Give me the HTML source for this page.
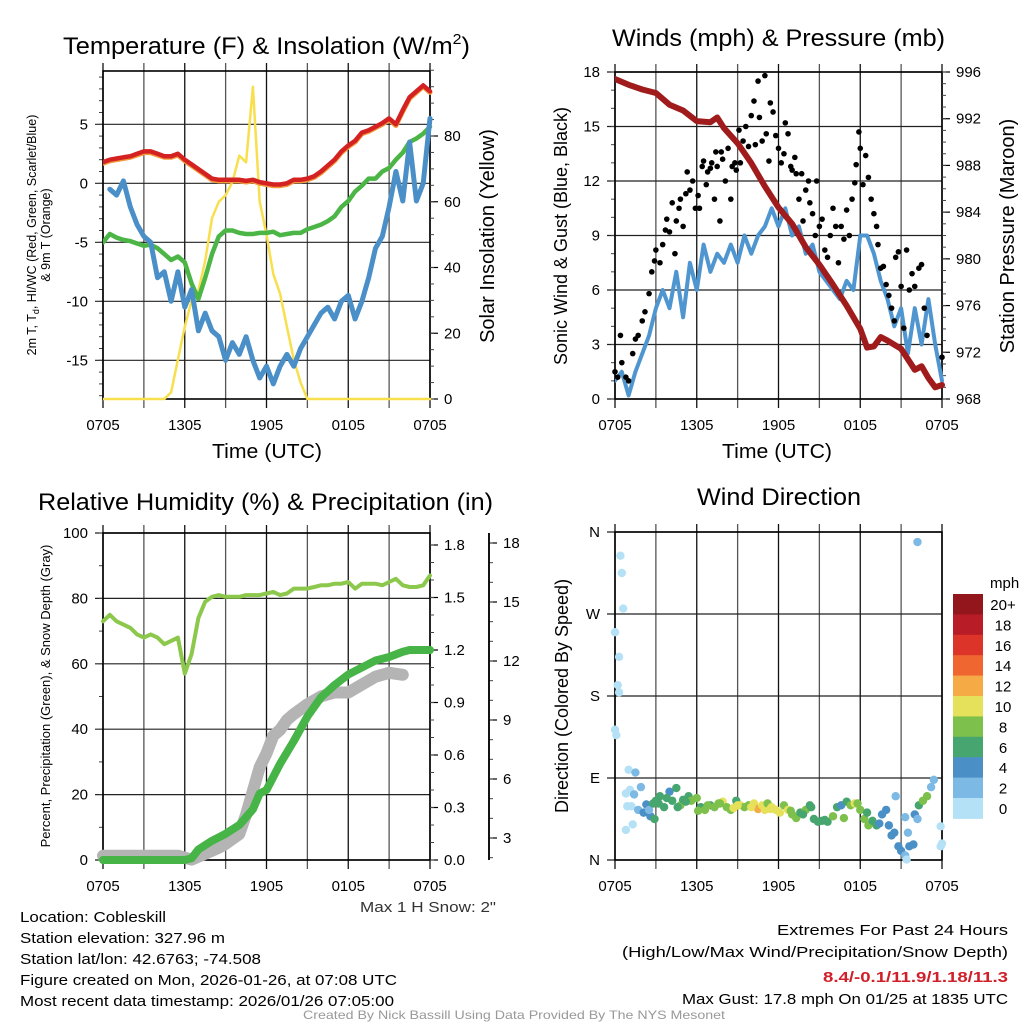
<!DOCTYPE html>
<html><head><meta charset="utf-8"><style>
html,body{margin:0;padding:0;background:#fff;}
svg{display:block;font-family:"Liberation Sans",sans-serif;}
</style></head><body>
<svg id="chart" width="1024" height="1024" viewBox="0 0 1024 1024" xmlns="http://www.w3.org/2000/svg">
<rect x="0" y="0" width="1024" height="1024" fill="#fff"/>
<g id="layer"></g>
<!-- titles -->
<text x="63" y="54" font-size="24" textLength="407" lengthAdjust="spacingAndGlyphs">Temperature (F) &amp; Insolation (W/m<tspan font-size="15" dy="-10">2</tspan><tspan dy="10">)</tspan></text>
<text x="612" y="46" font-size="24" textLength="333" lengthAdjust="spacingAndGlyphs">Winds (mph) &amp; Pressure (mb)</text>
<text x="38" y="510" font-size="24" textLength="455" lengthAdjust="spacingAndGlyphs">Relative Humidity (%) &amp; Precipitation (in)</text>
<text x="697" y="505" font-size="24" textLength="164" lengthAdjust="spacingAndGlyphs">Wind Direction</text>
<!-- axis titles -->
<text x="212" y="458" font-size="20" textLength="110" lengthAdjust="spacingAndGlyphs">Time (UTC)</text>
<text x="722" y="458" font-size="20" textLength="110" lengthAdjust="spacingAndGlyphs">Time (UTC)</text>
<g transform="translate(36,235) rotate(-90)">
<text x="0" y="0" font-size="12.5" text-anchor="middle">2m T, T<tspan font-size="9" dy="3">d</tspan><tspan dy="-3">, HI/WC (Red, Green, Scarlet/Blue)</tspan></text>
<text x="0" y="14" font-size="12.5" text-anchor="middle">&amp; 9m T (Orange)</text>
</g>
<text transform="translate(494,236) rotate(-90)" font-size="20" text-anchor="middle">Solar Insolation (Yellow)</text>
<text transform="translate(567,236) rotate(-90)" font-size="18" text-anchor="middle">Sonic Wind &amp; Gust (Blue, Black)</text>
<text transform="translate(1014,236) rotate(-90)" font-size="20" text-anchor="middle">Station Pressure (Maroon)</text>
<text transform="translate(50,696) rotate(-90)" font-size="13" text-anchor="middle">Percent, Precipitation (Green), &amp; Snow Depth (Gray)</text>
<text transform="translate(568,696) rotate(-90)" font-size="18" text-anchor="middle">Direction (Colored By Speed)</text>
<text x="360" y="912" font-size="15" fill="#333" textLength="136" lengthAdjust="spacingAndGlyphs">Max 1 H Snow: 2"</text>
<!-- footer -->
<g font-size="15">
<text x="20" y="922" textLength="146" lengthAdjust="spacingAndGlyphs">Location: Cobleskill</text>
<text x="20" y="943" textLength="205" lengthAdjust="spacingAndGlyphs">Station elevation: 327.96 m</text>
<text x="20" y="964" textLength="241" lengthAdjust="spacingAndGlyphs">Station lat/lon: 42.6763; -74.508</text>
<text x="20" y="985" textLength="377" lengthAdjust="spacingAndGlyphs">Figure created on Mon, 2026-01-26, at 07:08 UTC</text>
<text x="20" y="1006" textLength="374" lengthAdjust="spacingAndGlyphs">Most recent data timestamp: 2026/01/26 07:05:00</text>
</g>
<g font-size="15">
<text x="777" y="935" textLength="231" lengthAdjust="spacingAndGlyphs">Extremes For Past 24 Hours</text>
<text x="622" y="957" textLength="386" lengthAdjust="spacingAndGlyphs">(High/Low/Max Wind/Precipitation/Snow Depth)</text>
<text x="823" y="982" fill="#d0202a" font-weight="bold" textLength="185" lengthAdjust="spacingAndGlyphs">8.4/-0.1/11.9/1.18/11.3</text>
<text x="682" y="1004" textLength="326" lengthAdjust="spacingAndGlyphs">Max Gust: 17.8 mph On 01/25 at 1835 UTC</text>
</g>
<text x="303" y="1019" font-size="12" fill="#999" textLength="422" lengthAdjust="spacingAndGlyphs">Created By Nick Bassill Using Data Provided By The NYS Mesonet</text>
</svg>
<script>
// ---------- DATA ----------
const xTickHours=[0,6,12,18,24];
const xTickLabels=['0705','1305','1905','0105','0705'];
const halfHours=[0,0.5,1,1.5,2,2.5,3,3.5,4,4.5,5,5.5,6,6.5,7,7.5,8,8.5,9,9.5,10,10.5,11,11.5,12,12.5,13,13.5,14,14.5,15,15.5,16,16.5,17,17.5,18,18.5,19,19.5,20,20.5,21,21.5,22,22.5,23,23.5,24];
const tempRed=[1.8,2.0,2.1,2.2,2.3,2.5,2.7,2.7,2.5,2.3,2.3,2.5,2.0,1.6,1.2,0.8,0.4,0.3,0.3,0.3,0.3,0.2,0.3,0.1,0.0,-0.1,-0.1,0.0,0.3,0.3,0.4,0.6,1.0,1.5,2.0,2.7,3.2,3.6,4.3,4.5,4.8,5.1,5.5,5.0,6.2,7.3,7.8,8.3,7.8];
const tempOrange=[1.7,1.9,2.0,2.1,2.2,2.4,2.6,2.6,2.4,2.2,2.2,2.4,1.9,1.5,1.1,0.7,0.3,0.2,0.2,0.2,0.2,0.1,0.2,0.0,-0.1,-0.2,-0.2,-0.1,0.2,0.2,0.3,0.5,0.9,1.4,1.9,2.6,3.1,3.5,4.2,4.4,4.7,5.0,5.4,4.9,6.1,7.2,7.7,8.2,7.7];
const dewGreen=[-5,-4.3,-4.6,-4.8,-4.9,-5.1,-5.3,-5.2,-5.5,-6.0,-6.5,-6.2,-6.7,-8.5,-9.8,-8.0,-6.0,-4.5,-4.0,-4.0,-4.2,-4.3,-4.3,-4.2,-4.2,-4.1,-4.4,-4.3,-4.2,-4.2,-3.9,-3.7,-3.5,-3.2,-2.8,-2.0,-1.5,-0.7,-0.2,0.4,0.4,1.0,1.3,2.0,2.6,3.5,3.8,4.2,4.8];
const windChill=[null,-0.5,-1.0,0.2,-2,-3.5,-4.5,-5,-8,-7.5,-10,-7.5,-10.5,-9,-12.5,-11,-12.5,-13,-15,-13.5,-14.5,-13,-15,-16.5,-15.5,-17,-15.5,-14.5,-15.5,-14,-13,-12,-11,-10.5,-11.5,-10,-9.5,-11.5,-10,-8,-5.5,-4.5,-2,1,-1.5,3.5,-1.5,0,5.5];
const solar=[0,0,0,0,0,0,0,0,0,0,2,12,22,30,33,42,55,60,62,66,74,72,95,60,50,38,32,22,12,5,0,0,0,0,0,0,0,0,0,0,0,0,0,0,0,0,0,0,0];
const tempTicks=[-15,-10,-5,0,5];
const solarTicks=[0,20,40,60,80];

const pressHours=[0,1,2,3,4,5,6,7,7.5,8,9,10,11,12,13,14,15,16,17,18,18.5,19,19.5,20,21,22,22.5,23,23.5,24];
const pressure=[995.4,994.9,994.5,994.2,993.2,992.7,991.8,991.7,992.1,991.2,989.9,988.2,986.2,984.4,983.0,981.0,979.5,977.8,976.0,974.0,972.4,972.5,973.3,973.0,972.3,970.5,970.8,969.8,969.0,969.2];
const windSpeed=[1,1.5,0.2,1.5,2.5,3.5,5,6,5,7,4.5,7.5,6,8.5,7,8,7.5,8.5,7.5,9,8,9,9.5,10.5,9.5,10.5,9,9.5,8,8.5,7,6.5,6,5.5,6.5,6,9,9,8,6.5,5.5,4,5,2.5,5,3,5.5,3,1];
const gustHours=[0,0.2,0.4,0.5,0.8,1,1.3,1.5,1.7,2,2.2,2.5,2.7,2.9,3,3.3,3.5,3.7,3.8,4,4.2,4.4,4.5,4.7,4.8,5,5.2,5.3,5.5,5.7,5.9,6.1,6.2,6.4,6.5,6.7,6.8,7,7.1,7.3,7.4,7.5,7.7,7.8,7.9,8.1,8.3,8.5,8.6,8.8,8.9,9.1,9.2,9.4,9.6,9.8,10,10.2,10.3,10.5,10.6,10.8,11,11.1,11.3,11.4,11.6,11.8,12,12.2,12.4,12.5,12.7,12.9,13,13.2,13.3,13.5,13.7,13.8,14,14.2,14.3,14.5,14.7,14.8,15,15.2,15.4,15.6,15.8,16,16.2,16.4,16.6,16.8,17,17.2,17.4,17.6,17.7,17.9,18,18.2,18.4,18.6,18.8,19,19.2,19.3,19.5,19.7,19.9,20.1,20.3,20.5,20.6,20.8,21,21.2,21.4,21.6,21.8,22,22.3,22.5,22.7,22.9,24];
const gustSpeed=[1.5,1.2,3.5,2,1.2,1,2.5,3.3,3.5,4.3,4.8,5.8,7,7.6,8.2,7.5,8.5,9.3,9.9,9.2,10.8,8,9.8,10.5,11,9.5,11.3,12.5,11.5,12,10.5,11.2,10.5,12.8,13.1,11.8,12.5,12.7,13,11,13.6,12.8,9.8,13.6,13.2,12,13.8,11,12.8,13,12.6,14.8,13,14.2,15,13.9,15.6,16.4,14,17.5,15.5,14.2,17.8,14.6,13.1,16.3,15.8,14.5,13.8,13,13.5,15.2,14.6,12.8,12.6,13.3,12.4,11,12.4,9.8,11.5,12,10.8,10.2,9,12,9.5,9.9,8.2,7.8,9,10.5,9.5,7.5,9.5,8.8,10.4,9,11,11.9,12.9,14.7,13.8,11.8,13.4,12.2,11,10.2,9.5,8.5,7.2,7.3,6.3,5.7,5,4.3,7.8,8.1,6.2,3.9,8.2,6,6.9,6.2,7.2,7.4,5,3.5,2.3];
const windTicks=[0,3,6,9,12,15,18];
const pressTicks=[968,972,976,980,984,988,992,996];

const rhHumidity=[73,75,73,72,71,69,68,69,68,66,67,68,57,63,74,79,80.5,81,80.5,80.5,80.5,81,81,81,81.5,82,81,81.5,83,83,83,83.5,84,84,84.5,84.5,85,83,84.5,84.5,84.5,84,85,86,84,83.5,83.5,84,87];
const precipHours=[0,6,6.5,7,8,9,10,11,11.5,12,13,14,15,16,17,18,19,20,21,22,22.5,24];
const precipIn=[0,0,0.01,0.06,0.11,0.15,0.2,0.29,0.38,0.4,0.55,0.68,0.82,0.93,1.0,1.06,1.1,1.14,1.16,1.19,1.2,1.2];
const snowHours=[0,5.5,6.5,7.5,8.5,9,10,10.5,11,11.5,12,12.5,13,13.5,14,15,16,17,18,19,20,21,22];
const snowDepth=[2.1,2.1,1.9,2.2,2.5,2.7,3.2,4.2,5.4,6.6,7.3,8.2,8.5,9,9.3,9.8,10.2,10.4,10.4,10.8,11.2,11.4,11.3];
const pctTicks=[0,20,40,60,80,100];
const precipTicks=[0,0.3,0.6,0.9,1.2,1.5,1.8];
const snowTicks=[3,6,9,12,15,18];

const dirHours=[0.4,0.5,0.6,-0.1,0.3,0.2,0.3,0.0,0.1,1.0,1.5,0.8,1.1,1.4,1.9,2.3,0.9,1.2,1.7,2.1,2.6,1.3,0.8,2.5,2.8,3.0,3.3,3.6,4.0,4.2,4.5,4.8,5.0,5.4,5.6,6.0,6.3,6.6,7.0,7.3,7.6,7.9,8.2,8.5,8.9,9.2,9.5,9.8,10.2,10.5,10.8,11.0,11.2,11.5,11.8,12.1,12.4,12.7,13.0,13.3,13.6,14.0,14.3,14.6,14.9,15.2,15.6,16.0,16.3,16.6,17.0,17.3,17.6,18.0,18.3,18.6,18.9,19.2,19.6,19.9,20.1,20.3,20.5,20.8,21.0,21.3,21.6,21.4,20.6,21.3,22.0,22.3,22.6,22.9,23.2,23.4,23.9,24.0,23.9,22.2,21.5,21.9,22.2,3.2,3.8,5.2,6.8,7.7,8.7,9.0,10.0,11.4,12.9,13.8,14.4,15.4,16.8,17.8,18.5,19.4,2.9,4.6,6.1];
const dirDeg=[334,315,276,250,223,192,184,143,137,99,96,73,77,72,80,61,59,59,55,52,48,39,33,55,62,65,70,58,75,65,79,60,66,70,65,68,58,55,60,58,62,64,58,55,65,60,58,60,62,56,60,55,62,58,55,52,60,55,50,46,52,55,60,45,42,43,42,48,58,60,64,60,62,55,45,38,43,38,50,55,38,27,30,15,10,5,15,0.5,70,47,50,60,65,70,80,88,37,18,15,349,30,17,45,62,68,64,60,62,57,60,58,56,54,50,58,44,46,62,52,40,45,58,54,60];
const dirSpeed=[1,0,0,1,0,0,0,1,0,0,2,0,0,2,3,4,0,0,2,4,4,0,0,2,6,6,6,6,4,6,6,8,6,6,8,8,6,8,6,8,8,10,8,8,6,10,8,8,10,12,10,10,8,10,10,10,8,10,8,8,6,8,6,6,6,6,6,8,6,4,6,8,10,8,8,8,6,6,4,4,4,4,4,4,4,2,4,0,2,2,4,6,8,8,2,2,0,0,0,2,2,4,2,6,6,6,8,8,10,10,10,10,8,6,6,6,8,8,6,4,6,6,8];
const dirTicks=[0,90,180,270,360];
const dirTickLabels=['N','E','S','W','N'];
const speedBins=['0','2','4','6','8','10','12','14','16','18','20+'];
const binColors=['#b5e1f6','#7cb9e4','#4a8fc5','#47a56f','#7dc04b','#e6e15b','#f5aa46','#ef6631','#dc3429','#b81c26','#93161c'];

// ---------- DRAWING ----------
const NS='http://www.w3.org/2000/svg';
const layer=document.getElementById('layer');
function mk(tag,attrs,parent){const e=document.createElementNS(NS,tag);for(const k in attrs)e.setAttribute(k,attrs[k]);(parent||layer).appendChild(e);return e;}
function lin(d0,d1,r0,r1){return v=>r0+(v-d0)*(r1-r0)/(d1-d0);}

function panel(name,x0,x1,y0,y1,yScale,yTicks,yLabels,minorStep,ymin,ymax){
  const g=mk('g',{});
  
  
  const xs=lin(0,24,x0,x1);
  for(let h=0;h<=24;h+=3){
    const x=xs(h);
    const l=mk('line',{x1:x,x2:x,y1:y0-8,y2:y1+9,stroke:(h%6===0)?'#111':'#555','stroke-width':1.3},g);
    
    
  }
  xTickHours.forEach((h,i)=>{
    const t=mk('text',{x:xs(h),y:y1+31,'font-size':15,'text-anchor':'middle'},g);
    t.textContent=xTickLabels[i];
    
    
  });
  yTicks.forEach((v,i)=>{
    const y=yScale(v);
    const l=mk('line',{x1:x0-8,x2:x1,y1:y,y2:y,stroke:'#222','stroke-width':1.2},g);
    
    
    const t=mk('text',{x:x0-15,y:y+5,'font-size':15,'text-anchor':'end'},g);
    t.textContent=yLabels[i];
    
    
  });
  if(minorStep){
    for(let v=Math.ceil(ymin/minorStep)*minorStep;v<=ymax;v+=minorStep){
      const y=yScale(v);
      const m=mk('line',{x1:x0-4,x2:x0,y1:y,y2:y,stroke:'#444','stroke-width':1},g);
      
      
    }
  }
  const f=mk('rect',{x:x0,y:y0,width:x1-x0,height:y1-y0,fill:'none',stroke:'#000','stroke-width':1.6},g);
  
  
  return xs;
}
function rightAxis(name,ax,y0,y1,scale,ticks,labels,minorStep,vmin,vmax,extendLine){
  const g=mk('g',{});
  
  
  if(extendLine){
    const l=mk('line',{x1:ax,x2:ax,y1:y0,y2:y1,stroke:'#000','stroke-width':1.6},g);
    
    
  }
  ticks.forEach((v,i)=>{
    const y=scale(v);
    const l=mk('line',{x1:ax,x2:ax+8,y1:y,y2:y,stroke:'#000','stroke-width':1.2},g);
    
    
    const t=mk('text',{x:ax+14,y:y+5,'font-size':15},g);
    t.textContent=labels[i];
    
    
  });
  for(let v=vmin;v<=vmax+1e-9;v+=minorStep){
    const y=scale(v);
    const m=mk('line',{x1:ax,x2:ax+4,y1:y,y2:y,stroke:'#444','stroke-width':1},g);
    
    
  }
}
function linePath(xs,ys,hours,vals){
  let d='',pen=false;
  hours.forEach((h,i)=>{const v=vals[i];if(v===null){pen=false;return;}d+=(pen?'L':'M')+xs(h).toFixed(1)+' '+ys(v).toFixed(1);pen=true;});
  return d;
}
function series(name,xs,ys,hours,vals,color,w,clip){
  const p=mk('path',{d:linePath(xs,ys,hours,vals),fill:'none',stroke:color,'stroke-width':w,'stroke-linejoin':'round','stroke-linecap':'round'});
  if(clip)p.setAttribute('clip-path',clip);
  
  
  return p;
}
const defs=mk('defs',{});
function clip(id,x0,y0,x1,y1){const c=mk('clipPath',{id:id},defs);mk('rect',{x:x0,y:y0-4,width:x1-x0+4,height:y1-y0+8},c);return 'url(#'+id+')';}

// Panel 1
const p1={x0:103,x1:430,y0:71,y1:399};
const y1L=lin(0,5,183.3,124.3);
const y1R=lin(0,80,399,136);
const xs1=panel('temperature',p1.x0,p1.x1,p1.y0,p1.y1,y1L,tempTicks,tempTicks.map(String),1,-18,9);
rightAxis('insolation-axis',p1.x1,p1.y0,p1.y1,y1R,solarTicks,solarTicks.map(String),5,0,100,false);
const c1=clip('c1',p1.x0,p1.y0,p1.x1,p1.y1);
series('solar-insolation-line',xs1,y1R,halfHours,solar,'#f8df4e',2.5,c1);
series('dewpoint-line',xs1,y1L,halfHours,dewGreen,'#4bb546',4.5,c1);
series('wind-chill-line',xs1,y1L,halfHours,windChill,'#4a8fc8',5,c1);
series('temperature-9m-line',xs1,y1L,halfHours,tempOrange,'#f39a3c',5,c1);
series('temperature-2m-line',xs1,y1L,halfHours,tempRed,'#d42222',4.5,c1);

// Panel 2
const p2={x0:615,x1:942,y0:72,y1:399};
const y2L=lin(0,18,399,72);
const y2R=lin(968,996,399,72);
const xs2=panel('winds',p2.x0,p2.x1,p2.y0,p2.y1,y2L,windTicks,windTicks.map(String),1,0,18);
rightAxis('pressure-axis',p2.x1,p2.y0,p2.y1,y2R,pressTicks,pressTicks.map(String),1,968,996,false);
const c2=clip('c2',p2.x0,p2.y0,p2.x1,p2.y1);
series('sonic-wind-line',xs2,y2L,halfHours,windSpeed,'#4f96d0',4,c2);
gustHours.forEach((h,i)=>{
  const c=mk('circle',{cx:xs2(h),cy:y2L(gustSpeed[i]),r:2.8,fill:'#000'});
  
  
});
series('station-pressure-line',xs2,y2R,pressHours,pressure,'#a01b1b',6,c2);

// Panel 3
const p3={x0:103,x1:430,y0:533,y1:860};
const y3L=lin(0,100,860,533);
const y3P=lin(0,1.8,860,545);
const y3S=lin(3,18,838,543);
const xs3=panel('humidity',p3.x0,p3.x1,p3.y0,p3.y1,y3L,pctTicks,pctTicks.map(String),10,0,100);
rightAxis('precip-axis',p3.x1,p3.y0,p3.y1,y3P,precipTicks,precipTicks.map(v=>v.toFixed(1)),0.1,0,1.85,false);
rightAxis('snow-axis',489,p3.y0,p3.y1,y3S,snowTicks,snowTicks.map(String),1,2,18,true);
const sl=mk('line',{x1:489,x2:489,y1:533,y2:860,stroke:'#000','stroke-width':1.6});


const c3=clip('c3',p3.x0-8,p3.y0,p3.x1+4,p3.y1+6);
series('snow-depth-line',xs3,y3S,snowHours,snowDepth,'#b4b4b4',12,c3);
series('precipitation-line',xs3,y3P,precipHours,precipIn,'#46b446',8,c3);
series('relative-humidity-line',xs3,y3L,halfHours,rhHumidity,'#8cc84c',4);

// Panel 4
const p4={x0:615,x1:942,y0:532,y1:860};
const y4=lin(0,360,860,532);
const xs4=panel('wind-direction',p4.x0,p4.x1,p4.y0,p4.y1,y4,dirTicks,dirTickLabels,null,0,360);
dirHours.forEach((h,i)=>{
  const bin=Math.min(10,Math.floor(dirSpeed[i]/2));
  const c=mk('circle',{cx:xs4(Math.max(0,h)),cy:y4(dirDeg[i]),r:4.2,fill:binColors[bin]});
  
  
});
// colorbar
const cbTop=594,cbH=20.4;
const mph=mk('text',{x:990,y:588,'font-size':15});
mph.textContent='mph';


speedBins.forEach((lab,i)=>{
  const idx=10-i;
  const r=mk('rect',{x:953,y:cbTop+i*cbH,width:30,height:cbH+0.5,fill:binColors[idx]});
  
  
  const t=mk('text',{x:1003,y:cbTop+i*cbH+16,'font-size':15,'text-anchor':'middle'});
  t.textContent=speedBins[idx];
  
  
});
</script>
</body></html>
